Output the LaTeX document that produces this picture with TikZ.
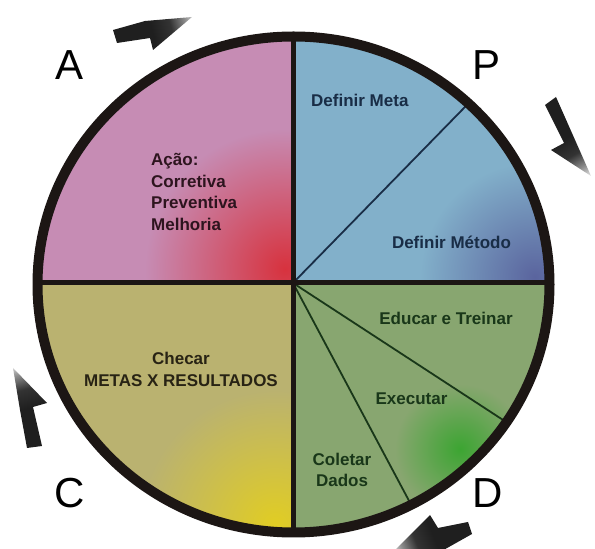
\documentclass[tikz,border=0pt]{standalone}
\usepackage{fontspec}
\setmainfont{Liberation Sans}
\usetikzlibrary{calc}
\definecolor{cA}{RGB}{198,140,180}
\definecolor{cAspot}{RGB}{215,50,62}
\definecolor{cP}{RGB}{130,176,202}
\definecolor{cPspot}{RGB}{90,100,158}
\definecolor{cC}{RGB}{186,178,112}
\definecolor{cCspot}{RGB}{225,205,35}
\definecolor{cD}{RGB}{136,166,112}
\definecolor{cDspot}{RGB}{60,165,50}
\definecolor{tA}{RGB}{45,20,30}
\definecolor{tP}{RGB}{25,45,70}
\definecolor{tC}{RGB}{40,35,20}
\definecolor{tD}{RGB}{25,55,25}
\definecolor{rim}{RGB}{28,22,20}
\pgfdeclareverticalshading{arrowfade}{100bp}{color(0bp)=(white); color(14bp)=(white); color(25bp)=(black!45); color(36bp)=(black!80); color(50bp)=(black!88); color(100bp)=(black!88)}
\begin{document}
\begin{tikzpicture}[x=1pt,y=1pt,
  lbl/.style={font=\fontsize{17}{21.5}\selectfont\bfseries, inner sep=0pt},
  big/.style={font=\fontsize{42}{42}\selectfont, inner sep=0pt, text=black},
  divider/.style={draw=rim, line width=5pt},
  subline/.style={line width=1.8pt},
  arrowshape/.style={shading=arrowfade}]
\useasboundingbox (0,0) rectangle (595,549);
\coordinate (O) at (293,266);
\coordinate (E) at (293.5,264.5);
\coordinate (pEnd) at (462,439);
\coordinate (dEnd1) at (500,131);
\coordinate (dEnd2) at (407,52);
\begin{scope}
  \clip (E) ellipse [x radius=256, y radius=248];
  % quadrant A
  \fill[cA] (O) rectangle (0,549);
  \begin{scope}\clip (O) rectangle (0,549);
    \shade[inner color=cAspot, outer color=cA] (285,280) circle (140);
  \end{scope}
  % quadrant P
  \fill[cP] (O) rectangle (595,549);
  \begin{scope}\clip (O) rectangle (595,549);
    \shade[inner color=cPspot, outer color=cP] (535,272) circle (115);
  \end{scope}
  % quadrant C
  \fill[cC] (O) rectangle (0,0);
  \begin{scope}\clip (O) rectangle (0,0);
    \shade[inner color=cCspot, outer color=cC] (275,24) circle (135);
  \end{scope}
  % quadrant D
  \fill[cD] (O) rectangle (595,0);
  \begin{scope}\clip (O) rectangle (595,0);
    \shade[inner color=cDspot, outer color=cD] (460,100) circle (65);
  \end{scope}
  % sub-divisions
  \draw[subline, draw=tP] (O) -- ($(O)!1.5!(pEnd)$);
  \draw[subline, draw=tD] (O) -- ($(O)!1.5!(dEnd1)$);
  \draw[subline, draw=tD] (O) -- ($(O)!1.5!(dEnd2)$);
  % main dividers
  \draw[divider] (O -| 0,0) -- (O -| 595,0);
  \draw[divider] (O |- 0,0) -- (O |- 0,549);
\end{scope}
\draw[draw=rim, line width=10pt] (E) ellipse [x radius=256, y radius=248];

% texts
\node[lbl, text=tA, align=left, anchor=west] (acao) at (151,357) {Ação:\\Corretiva\\Preventiva\\Melhoria};
\node[lbl, text=tP, anchor=west] (meta) at (311,449) {Definir Meta};
\node[lbl, text=tP] (metodo) at (451.5,307) {Definir Método};
\node[lbl, text=tD] (educar) at (446,231) {Educar e Treinar};
\node[lbl, text=tD] (executar) at (411.5,150) {Executar};
\node[lbl, text=tD, align=center] (coletar) at (342,79) {Coletar\\Dados};
\node[lbl, text=tC, align=center] (checar) at (181,179.5) {Checar\\METAS X RESULTADOS};

% big letters
\node[big] (lA) at (69.5,483.5) {A};
\node[big] (lP) at (487,484) {P};
\node[big] (lC) at (70,56) {C};
\node[big] (lD) at (487.5,56) {D};

% cycle arrows
\shade[arrowshape, shading angle=104.6] (113,519) -- (145,528) -- (192,532) -- (153,499) -- (150,511) -- (117,506) -- cycle;
\shade[arrowshape, shading angle=28.7] (545,444) -- (556,452) -- (591,373) -- (551,399) -- (564,406) -- cycle;
\shade[arrowshape, shading angle=-68] (468,27) -- (472,15) -- (440,-3) -- (393,-3) -- (430,34) -- (438,21) -- cycle;
\shade[arrowshape, shading angle=-164.4] (27,101) -- (42,103) -- (33,142) -- (47,146) -- (13,181) -- (20,139) -- cycle;
\end{tikzpicture}
\end{document}
